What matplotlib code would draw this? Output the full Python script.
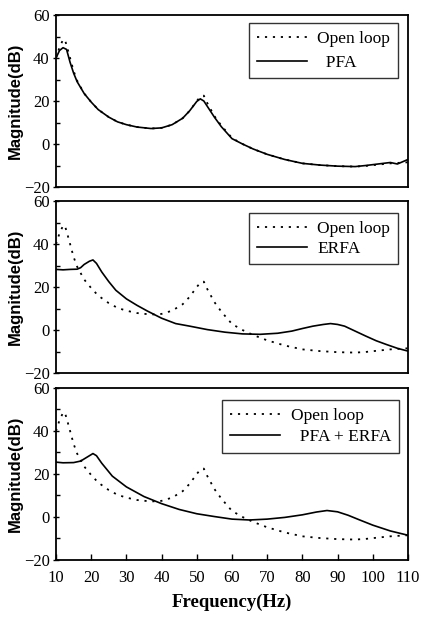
import matplotlib
matplotlib.use("Agg")
import matplotlib.pyplot as plt
from matplotlib.ticker import MultipleLocator

# 开环响应（三个子图共用）
freq_open = [10, 11, 12, 12.5, 13, 14, 15, 16, 18, 20, 22, 25, 27.5, 30, 33, 37, 40,
             43, 46, 48, 50, 51, 52, 53, 55, 57, 60, 63, 66, 70, 75, 80, 85, 90, 95,
             98, 102, 105, 107, 110]
mag_open = [40, 45, 48.5, 48.6, 46, 40, 34, 29.5, 23.5, 19.5, 16, 12.5, 10.3, 9, 7.9,
            7.2, 7.5, 9, 12, 15.5, 20, 22, 22.5, 19, 13, 8.5, 2.8, 0, -2.3, -4.8, -7.2,
            -9, -9.8, -10.3, -10.5, -10.2, -9.5, -9, -8.8, -8.5]

# PFA 控制
freq_pfa = [10, 11, 12, 13, 14, 15, 16, 18, 20, 22, 25, 27.5, 30, 33, 37, 40, 43, 46, 48,
            50, 51, 52, 53, 55, 57, 60, 63, 66, 70, 75, 80, 85, 90, 95, 98, 102, 105,
            107, 110]
mag_pfa = [40, 43.5, 44.8, 44, 38, 33, 29, 23.5, 19.5, 16, 12.5, 10.3, 9, 7.9, 7.2, 7.5,
           9, 12, 15.5, 19.8, 21, 20, 17.5, 12.5, 8, 2.5, 0, -2.3, -4.8, -7.2, -9, -9.8,
           -10.3, -10.5, -10, -9.2, -8.6, -9.3, -7.2]

# ERFA 控制
freq_erfa = [10, 12, 14, 16, 17, 18, 19.5, 20.5, 21.5, 23, 25, 27, 30, 33, 36, 40, 44,
             48, 53, 58, 63, 68, 73, 77, 80, 83, 86, 88, 90, 92, 95, 98, 101, 104, 107,
             110]
mag_erfa = [28.2, 28, 28.2, 28.3, 29, 30.5, 32, 32.6, 31, 27, 22.5, 18.5, 14.5, 11.5,
            8.8, 5.5, 3, 1.8, 0.2, -1, -1.8, -2, -1.5, -0.5, 0.7, 1.8, 2.6, 3, 2.6, 1.8,
            -0.5, -2.8, -5, -6.8, -8.5, -9.8]

# PFA + ERFA 联合控制
freq_both = [10, 12, 15, 17, 19, 20.5, 21.5, 23, 26, 30, 35, 40, 45, 50, 55, 60, 65, 70,
             75, 80, 84, 87, 90, 93, 96, 100, 105, 110]
mag_both = [25.5, 25.2, 25.3, 26, 28, 29.5, 28.5, 25, 19, 14, 9.5, 6.2, 3.5, 1.5, 0.2,
            -1, -1.4, -1, -0.2, 1, 2.3, 3, 2.4, 0.8, -1.2, -3.8, -6.5, -8.5]

x_ticks = [10, 20, 30, 40, 50, 60, 70, 80, 90, 100, 110]

serif = "Liberation Serif"
dotted = (0, (1.2, 3.2))

fig = plt.figure(figsize=(4.22, 6.18), dpi=100)

# 每个子图：位置，控制曲线，图例文字，图例位置，图例行距
panels = [
    ([0.1327, 0.6974, 0.834, 0.2783], freq_pfa, mag_pfa, "  PFA", (0.972, 0.955), 0.45),
    ([0.1327, 0.3964, 0.834, 0.2783], freq_erfa, mag_erfa, "ERFA", (0.972, 0.93), 0.2),
    ([0.1327, 0.0939, 0.834, 0.2783], freq_both, mag_both, "  PFA + ERFA", (0.974, 0.93), 0.3),
]

for i, (rect, fx, my, label, anchor, spacing) in enumerate(panels):
    ax = fig.add_axes(rect)
    ax.plot(freq_open, mag_open, color="black", lw=1.3, linestyle=dotted,
            label="Open loop")
    ax.plot(fx, my, color="black", lw=1.2, label=label)

    ax.set_xlim(10, 110)
    ax.set_ylim(-20, 60)
    ax.yaxis.set_major_locator(MultipleLocator(20))
    ax.yaxis.set_minor_locator(MultipleLocator(10))
    ax.set_xticks(x_ticks)
    ax.tick_params(axis="y", which="major", direction="inout", length=5, width=1,
                   labelsize=12, pad=2)
    ax.tick_params(axis="y", which="minor", direction="in", length=3, width=1)
    ax.tick_params(axis="x", direction="in", length=4, width=1, labelsize=12, pad=7)
    for lab in ax.get_yticklabels() + ax.get_xticklabels():
        lab.set_family(serif)
    if i < 2:
        ax.tick_params(axis="x", length=0, labelbottom=False)

    for sp in ax.spines.values():
        sp.set_linewidth(1.3)

    ax.set_ylabel("Magnitude(dB)", fontsize=12, fontweight="bold",
                  family="Liberation Sans", labelpad=1)

    leg = ax.legend(loc="upper right", bbox_to_anchor=anchor, fancybox=False,
                    frameon=True, prop={"family": serif, "size": 12.5},
                    handlelength=2.9, handletextpad=0.6, labelspacing=spacing,
                    borderpad=0.45, borderaxespad=0)
    leg.get_frame().set_edgecolor("black")
    leg.get_frame().set_linewidth(1.0)

    if i == 2:
        ax.set_xlabel("Frequency(Hz)", fontsize=13.5, fontweight="bold",
                      family=serif, labelpad=6)

fig.savefig("out.png", dpi=100)
